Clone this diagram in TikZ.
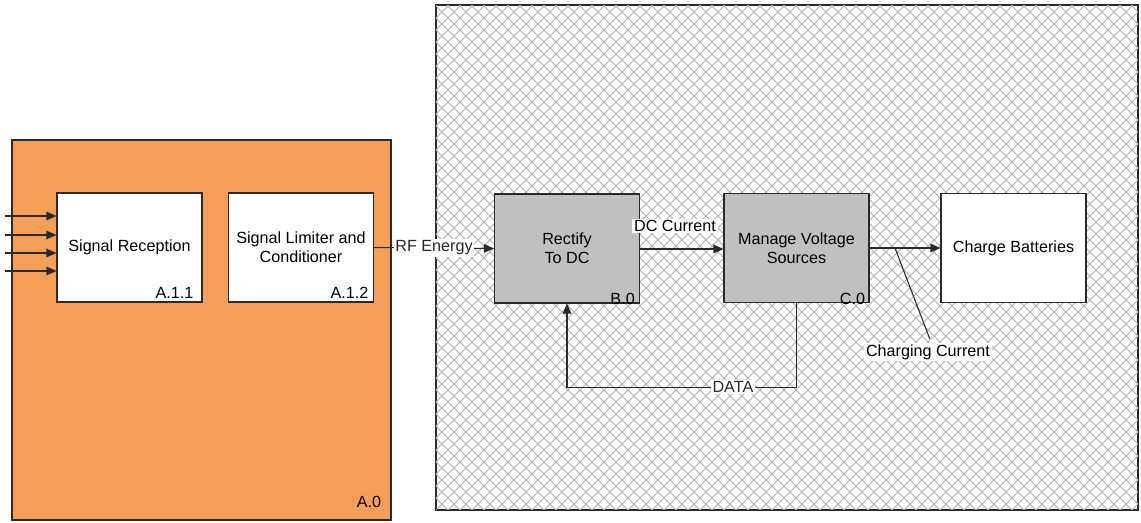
\documentclass[tikz,border=0pt]{standalone}
\usepackage{fontspec}
\setmainfont{Liberation Sans}
\usetikzlibrary{arrows.meta, positioning, calc}
\definecolor{corange}{HTML}{F59E58}
\definecolor{cgrey}{HTML}{C0C0C0}
\definecolor{cline}{HTML}{2A2A2A}
\definecolor{chatch}{HTML}{B0B0B0}

\begin{document}
\begin{tikzpicture}[
  font=\fontsize{9.2}{10.6}\selectfont,
  box/.style={draw=cline, line width=0.6pt, fill=#1, align=center,
              minimum width=2.9cm, minimum height=2.18cm, inner sep=0pt},
  frame/.style={draw=cline, line width=0.6pt, fill=#1, inner sep=0pt},
  idlbl/.style={anchor=base east, inner sep=0pt},
  arr/.style={-{Triangle[length=2mm, width=1.7mm]}, line width=0.6pt, cline},
  lbl/.style={fill=white, inner sep=1pt},
  hatchline/.style={chatch, line width=0.55pt}
]
\useasboundingbox (0,0) rectangle (22.82,10.44);

\node[frame=corange, minimum width=7.58cm, minimum height=7.6cm] (a0) at (4.03,3.84) {};
\node[idlbl] (a0-id) at ([xshift=-5.7pt, yshift=7.4pt]a0.south east) {A.0};

\node[frame=white, minimum width=14.04cm, minimum height=10.1cm] (sys) at (15.74,5.29) {};
\begin{scope}
  \clip (sys.south west) rectangle (sys.north east);
  \foreach \k in {-43,...,101} {
    \draw[hatchline] (8.72+\k*0.24,0.24) -- ++(10.1,10.1);
    \draw[hatchline] (8.72+\k*0.24,0.24) -- ++(-10.1,10.1);
  }
\end{scope}
\draw[cline, line width=0.6pt] (sys.south west) rectangle (sys.north east);

\node[box=white] (sr)   at (2.59,5.49)  {Signal Reception};
\node[box=white] (sl)   at (6.02,5.49)  {Signal Limiter and\\Conditioner};
\node[box=cgrey] (rect) at (11.34,5.47) {Rectify\\To DC};
\node[box=cgrey] (mv)   at (15.93,5.48) {Manage Voltage\\Sources};
\node[box=white] (cb)   at (20.27,5.48) {Charge Batteries};

\node[idlbl] (sr-id)   at ([xshift=-5pt, yshift=2.3pt]sr.south east)   {A.1.1};
\node[idlbl] (sl-id)   at ([xshift=-3pt, yshift=2.3pt]sl.south east)   {A.1.2};
\node[idlbl] (rect-id) at ([xshift=-2.8pt, yshift=-0.3pt]rect.south east) {B.0};
\node[idlbl] (mv-id)   at ([xshift=-2.3pt, yshift=-0.6pt]mv.south east)   {C.0};

\foreach \i/\y in {1/6.12, 2/5.74, 3/5.38, 4/5.02} {
  \coordinate (in\i) at (0.1,\y);
  \draw[arr] (in\i) -- (in\i -| sr.west);
}

\draw[arr] (sl.east) -- node[lbl] (rf) {RF Energy} (rect.west);
\draw[arr] (rect.east |- 0,5.46) -- (mv.west |- 0,5.46);
\node[lbl] (dcc) at (13.5,5.92) {DC Current};
\draw[arr] (mv.east) -- (cb.west);

\coordinate (tap) at (17.9,5.48);
\node[lbl] (chc) at (18.56,3.40) {Charging Current};
\draw[cline, line width=0.6pt] (tap) -- ([xshift=1pt,yshift=2pt]chc.north);

\draw[arr] (mv.south) -- ++(0,-1.68) coordinate (dturn)
  -- node[lbl, pos=0.277] (data) {DATA} (dturn -| rect.south) -- (rect.south);
\end{tikzpicture}
\end{document}
